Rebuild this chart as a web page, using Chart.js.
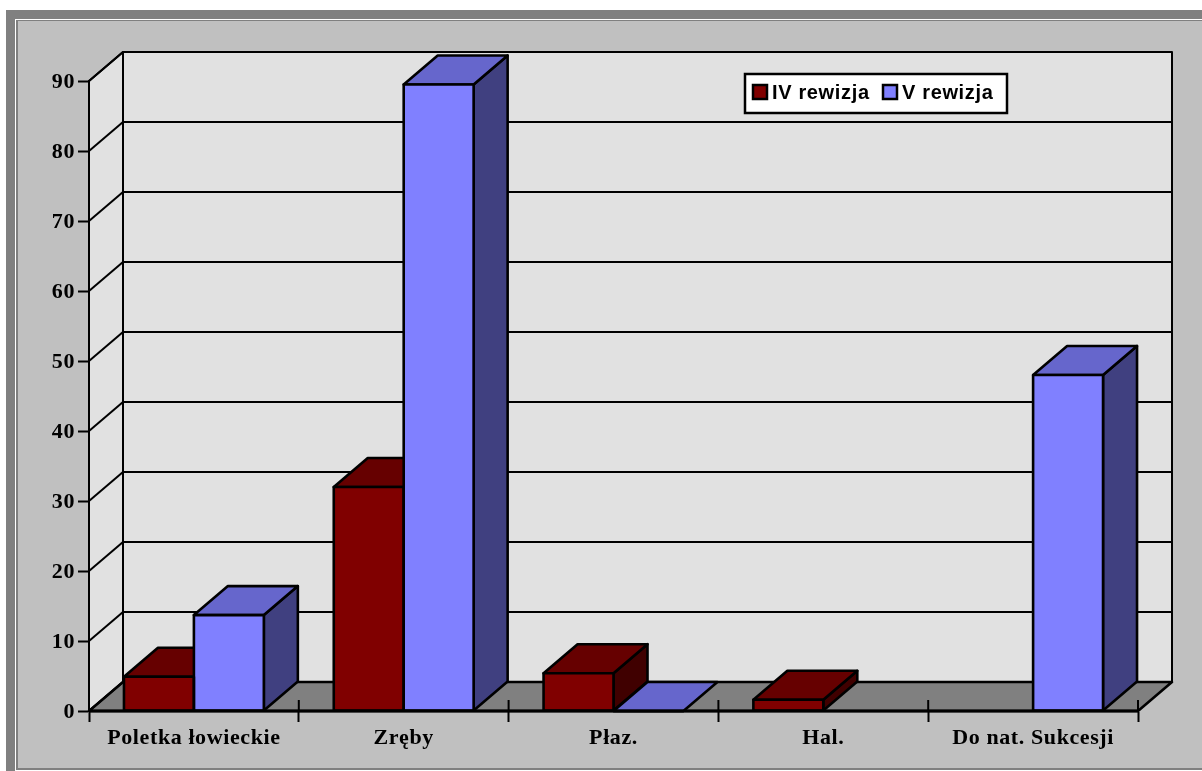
<!DOCTYPE html>
<html lang="pl">
<head>
<meta charset="utf-8">
<title>Rewizje</title>
<script src="https://cdn.jsdelivr.net/npm/chart.js@4/dist/chart.umd.min.js"></script>
<style>
    html, body { margin: 0; padding: 0; background: #fff; overflow: hidden; }
    #outer { position: absolute; left: 6px; top: 10px; width: 1196px; height: 761px; background: #808080; }
    #inner { position: absolute; left: 9px; top: 9px; width: 1187px; height: 752px; background: #fff; }
    #panel { position: absolute; left: 1px; top: 1px; right: 0; bottom: 1px; background: #c0c0c0;
             border-left: 2px solid #808080; border-top: 1px solid #808080; border-bottom: 2px solid #808080; }
    #chart { position: absolute; left: 0; top: 0; display: block; }
</style>
</head>
<body>
<div id="outer"><div id="inner"><div id="panel"></div></div></div>
<canvas id="chart" width="1202" height="771"></canvas>
<script>
const categories = ['Poletka łowieckie', 'Zręby', 'Płaz.', 'Hal.', 'Do nat. Sukcesji'];
const ivRewizja = [4.9, 32, 5.4, 1.6, null];
const vRewizja = [13.7, 89.5, 0, null, 48];
const seriesNames = ['IV rewizja', 'V rewizja'];

const frontColors = ['#800000', '#8080ff'];
const topColors = ['#660000', '#6666cc'];
const sideColors = ['#400000', '#404080'];

// depth of the fake 3D box
const DEPTH_X = 34;
const DEPTH_Y = -29;
const INK = '#000';
const EDGE = 2.6;

function poly(ctx, pts, fill, lineWidth) {
    ctx.beginPath();
    pts.forEach((p, i) => i ? ctx.lineTo(p[0], p[1]) : ctx.moveTo(p[0], p[1]));
    ctx.closePath();
    if (fill) {
        ctx.fillStyle = fill;
        ctx.fill();
    }
    ctx.lineJoin = 'round';
    ctx.lineWidth = lineWidth || 2;
    ctx.strokeStyle = INK;
    ctx.stroke();
}

function line(ctx, x1, y1, x2, y2, lineWidth) {
    ctx.beginPath();
    ctx.moveTo(x1, y1);
    ctx.lineTo(x2, y2);
    ctx.lineWidth = lineWidth || 2;
    ctx.strokeStyle = INK;
    ctx.stroke();
}

const box3d = {
    id: 'box3d',

    // walls, floor and the grid that runs round them
    beforeDraw(chart) {
        const { ctx, chartArea: a, scales } = chart;
        const bx = DEPTH_X, by = DEPTH_Y;
        // the serif labels run a bit wider than the installed font
        ctx.letterSpacing = '0.6px';
        ctx.save();
        poly(ctx, [[a.left + bx, a.top + by], [a.right + bx, a.top + by], [a.right + bx, a.bottom + by], [a.left + bx, a.bottom + by]], '#e1e1e1');
        poly(ctx, [[a.left, a.top], [a.left + bx, a.top + by], [a.left + bx, a.bottom + by], [a.left, a.bottom]], '#e1e1e1');
        poly(ctx, [[a.left, a.bottom], [a.right, a.bottom], [a.right + bx, a.bottom + by], [a.left + bx, a.bottom + by]], '#808080', EDGE);
        scales.y.ticks.forEach(t => {
            const y = scales.y.getPixelForValue(t.value);
            line(ctx, a.left, y, a.left + bx, y + by);
            line(ctx, a.left + bx, y + by, a.right + bx, y + by);
        });
        ctx.restore();
    },

    // x ticks poke up into the floor, then the top and side faces of every bar.
    // Chart.js paints the last dataset first, so the blue fronts land over the red faces.
    beforeDatasetsDraw(chart) {
        const { ctx, chartArea: a, scales } = chart;
        const step = scales.x.getPixelForValue(1) - scales.x.getPixelForValue(0);
        ctx.save();
        for (let i = 1; i <= categories.length; i++) {
            const x = scales.x.getPixelForValue(i - 1) + step / 2;
            line(ctx, x, a.bottom, x, a.bottom - 11);
        }
        chart.data.datasets.forEach((ds, i) => {
            chart.getDatasetMeta(i).data.forEach((bar, k) => {
                if (ds.data[k] === null) return;
                const p = bar.getProps(['x', 'y', 'base', 'width'], true);
                const l = p.x - p.width / 2, r = p.x + p.width / 2;
                if (p.base - p.y > 0) {
                    poly(ctx, [[r, p.y], [r + DEPTH_X, p.y + DEPTH_Y], [r + DEPTH_X, p.base + DEPTH_Y], [r, p.base]], sideColors[i], EDGE);
                }
                poly(ctx, [[l, p.y], [l + DEPTH_X, p.y + DEPTH_Y], [r + DEPTH_X, p.y + DEPTH_Y], [r, p.y]], topColors[i], EDGE);
            });
        });
        ctx.restore();
    },

    // outlines straddle the bar edges, Chart.js borders would sit inside them
    afterDatasetsDraw(chart) {
        const { ctx } = chart;
        ctx.save();
        chart.data.datasets.forEach((ds, i) => {
            chart.getDatasetMeta(i).data.forEach((bar, k) => {
                if (ds.data[k] === null) return;
                const p = bar.getProps(['x', 'y', 'base', 'width'], true);
                const l = p.x - p.width / 2, r = p.x + p.width / 2;
                poly(ctx, [[l, p.y], [r, p.y], [r, p.base], [l, p.base]], null, EDGE);
            });
        });
        ctx.restore();
    },

    // bottom edge sits over the bars, then the legend box
    afterDraw(chart) {
        const { ctx, chartArea: a } = chart;
        ctx.save();
        line(ctx, a.left, a.bottom, a.right, a.bottom, 3);
        ctx.fillStyle = '#fff';
        ctx.fillRect(745, 74, 262, 39);
        ctx.lineWidth = 2.5;
        ctx.strokeStyle = INK;
        ctx.strokeRect(745, 74, 262, 39);
        ctx.font = 'bold 20px "Liberation Sans"';
        ctx.letterSpacing = '0.65px';
        ctx.textBaseline = 'alphabetic';
        const swatchX = [753, 883];
        chart.data.datasets.forEach((ds, i) => {
            ctx.fillStyle = frontColors[i];
            ctx.fillRect(swatchX[i], 85, 14, 14);
            ctx.strokeRect(swatchX[i], 85, 14, 14);
            ctx.fillStyle = INK;
            ctx.fillText(ds.label, swatchX[i] + 19, 98.5);
        });
        ctx.restore();
    }
};

new Chart(document.getElementById('chart'), {
    type: 'bar',
    plugins: [box3d],
    data: {
        labels: categories,
        datasets: [
            {
                label: seriesNames[0],
                data: ivRewizja,
                backgroundColor: frontColors[0],
                borderWidth: 0
            },
            {
                label: seriesNames[1],
                data: vRewizja,
                backgroundColor: frontColors[1],
                borderWidth: 0
            }
        ]
    },
    options: {
        responsive: false,
        animation: false,
        events: [],
        layout: { padding: { top: 81, right: 64, left: 0, bottom: 0 } },
        datasets: { bar: { categoryPercentage: 2 / 3, barPercentage: 1 } },
        plugins: {
            legend: { display: false },
            title: { display: false },
            tooltip: { enabled: false }
        },
        scales: {
            x: {
                afterFit(scale) { scale.height = 60; },
                grid: { drawOnChartArea: false, tickLength: 11, tickColor: INK, tickWidth: 2 },
                border: { color: INK, width: 2 },
                ticks: {
                    color: INK,
                    padding: 3,
                    maxRotation: 0,
                    autoSkip: false,
                    font: { family: '"Liberation Serif"', weight: 'bold', size: 22 }
                }
            },
            y: {
                min: 0,
                max: 90,
                afterFit(scale) { scale.width = 89; },
                grid: { drawOnChartArea: false, tickLength: 11, tickColor: INK, tickWidth: 2 },
                border: { color: INK, width: 2 },
                ticks: {
                    stepSize: 10,
                    color: INK,
                    padding: 3,
                    labelOffset: 1.5,
                    font: { family: '"Liberation Serif"', weight: 'bold', size: 22 }
                }
            }
        }
    }
});
</script>
</body>
</html>
